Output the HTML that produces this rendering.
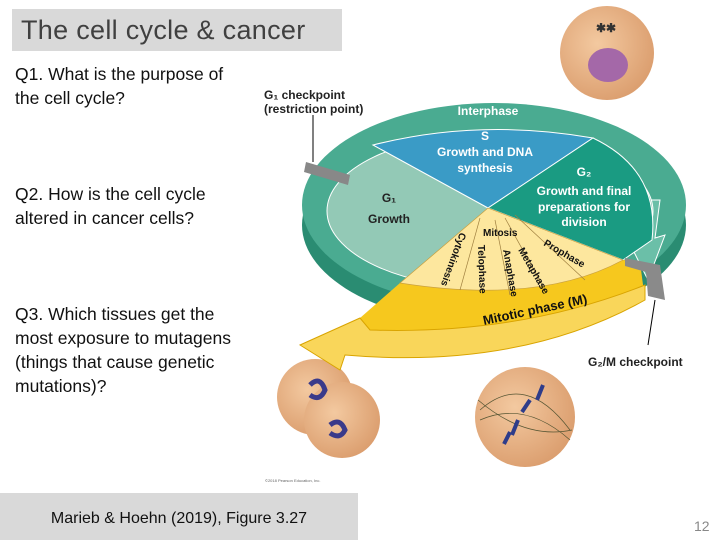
<!DOCTYPE html>
<html><head><meta charset="utf-8"><style>
body{margin:0;width:720px;height:540px;background:#fff;position:relative;overflow:hidden;font-family:"Liberation Sans",sans-serif}
.t{position:absolute;left:12px;top:9px;width:330px;height:42px;background:#d9d9d9;font-size:27px;color:#404040;line-height:42px;padding-left:9px;box-sizing:border-box;letter-spacing:0.3px}
.q{position:absolute;left:15px;font-size:17.5px;line-height:24px;color:#111}
.b{position:absolute;left:0;top:493px;width:358px;height:47px;background:#d9d9d9;font-size:16px;line-height:52px;text-align:center;color:#111}
.n{position:absolute;left:694px;top:518px;font-size:14px;color:#888}
svg{position:absolute;left:0;top:0}
</style></head><body>
<div class="t">The cell cycle &amp; cancer</div>
<div class="q" style="top:62px">Q1. What is the purpose of<br>the cell cycle?</div>
<div class="q" style="top:182px">Q2. How is the cell cycle<br>altered in cancer cells?</div>
<div class="q" style="top:302px">Q3. Which tissues get the<br>most exposure to mutagens<br>(things that cause genetic<br>mutations)?</div>
<div class="b">Marieb &amp; Hoehn (2019), Figure 3.27</div>
<div class="n">12</div>
<svg width="720" height="540" font-family="Liberation Sans, sans-serif" font-weight="bold">
<defs><radialGradient id="c" cx="0.4" cy="0.4" r="0.7"><stop offset="0" stop-color="#f3c9a0"/><stop offset="1" stop-color="#d99a6a"/></radialGradient></defs>
<!-- cells -->
<circle cx="607" cy="53" r="47" fill="url(#c)"/>
<ellipse cx="608" cy="65" rx="20" ry="17" fill="#a468a8"/>
<text x="596" y="32" font-size="12" fill="#333">✱✱</text>
<circle cx="315" cy="397" r="38" fill="url(#c)"/>
<circle cx="342" cy="420" r="38" fill="url(#c)"/>
<path d="M310 385 q10 -10 15 5 q-5 12 -15 5 M330 425 q10 -8 15 5 q-5 10 -15 3" stroke="#3a3a8a" stroke-width="5" fill="none"/>
<circle cx="525" cy="417" r="50" fill="url(#c)"/>
<path d="M480 410 Q525 370 570 430 M480 420 Q525 400 570 440 M478 400 Q525 440 572 430" stroke="#553" stroke-width="0.7" fill="none"/>
<path d="M543 385 l-6 15 M530 400 l-8 12 M518 420 l-6 15 M510 432 l-6 12" stroke="#2e3c8a" stroke-width="4"/>
<!-- teal ring -->
<ellipse cx="494" cy="225" rx="192" ry="100" fill="#2a8c72"/>
<ellipse cx="494" cy="205" rx="192" ry="102" fill="#4aab91"/>
<path d="M640 200 L640 245 L628 240 L648 280 L665 235 L655 238 L660 200Z" fill="#6bbfa8" stroke="#fff" stroke-width="1"/>
<text x="488" y="115" font-size="12" fill="#fff" text-anchor="middle">Interphase</text>
<!-- inner disk -->
<ellipse cx="490" cy="211" rx="163" ry="77" fill="#93c9b6" stroke="#fff" stroke-width="1"/>
<path d="M488 208 L373 145 Q480 118 593 138Z" fill="#3a9bc6" stroke="#fff"/>
<path d="M488 208 L593 138 Q660 170 652 240 L623 260Z" fill="#1a9b82" stroke="#fff"/>
<!-- mitotic -->
<path d="M400 283 L488 208 L623 260 L640 262 L645 300 Q560 345 420 330 L360 330 L360 318Z" fill="#f6c81e"/>
<path d="M400 283 L488 208 L623 260 Q540 305 400 283Z" fill="#fde79e" stroke="#c9a040" stroke-width="0.7"/>
<path d="M360 318 L300 345 L340 370 L345 355 Q520 370 645 300 L645 285 Q520 335 370 330Z" fill="#f9d65a" stroke="#d9a400"/>
<path d="M480 218 L460 290 M495 220 L510 295 M505 218 L545 290 M515 215 L585 280" stroke="#a08040" stroke-width="0.7"/>
<!-- checkpoints -->
<path d="M306 162 L350 175 L348 185 L304 172Z" fill="#888"/>
<path d="M625 258 L660 265 L665 300 L648 296 L646 272 L625 266Z" fill="#8a8a8a"/>
<line x1="313" y1="115" x2="313" y2="162" stroke="#000"/>
<line x1="655" y1="300" x2="648" y2="345" stroke="#000"/>
<g font-size="12" fill="#fff" text-anchor="middle">
<text x="485" y="140">S</text><text x="485" y="156">Growth and DNA</text><text x="485" y="172">synthesis</text>
<text x="584" y="176">G₂</text><text x="584" y="195">Growth and final</text><text x="584" y="211">preparations for</text><text x="584" y="226">division</text>
</g>
<g font-size="12" fill="#222" text-anchor="middle"><text x="389" y="202">G₁</text><text x="389" y="223">Growth</text></g>
<g font-size="10" fill="#111">
<text x="483" y="236">Mitosis</text>
<text transform="translate(543,245) rotate(30)">Prophase</text>
<text transform="translate(518,250) rotate(60)">Metaphase</text>
<text transform="translate(503,250) rotate(80)">Anaphase</text>
<text transform="translate(478,245) rotate(88)">Telophase</text>
<text transform="translate(460,232) rotate(110)">Cytokinesis</text>
</g>
<text transform="translate(484,325) rotate(-12)" font-size="13" fill="#111">Mitotic phase (M)</text>
<g font-size="12" fill="#222"><text x="264" y="99">G₁ checkpoint</text><text x="264" y="113">(restriction point)</text>
<text x="588" y="366">G₂/M checkpoint</text></g>
<text x="265" y="482" font-size="4" fill="#666" font-weight="normal">©2018 Pearson Education, Inc.</text>
</svg>
</body></html>
